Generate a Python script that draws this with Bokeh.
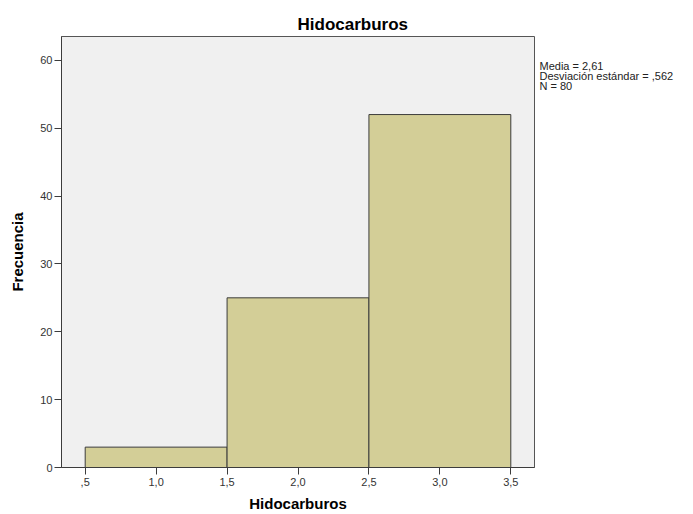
from bokeh.plotting import figure
from bokeh.models import Range1d, FixedTicker, LinearAxis
from bokeh.embed import file_html
from bokeh.resources import INLINE

# Data
bin_left = [0.5, 1.5, 2.5]
bin_right = [1.5, 2.5, 3.5]
counts = [3, 25, 52]
x_ticks = [0.5, 1.0, 1.5, 2.0, 2.5, 3.0, 3.5]
x_tick_labels = [",5", "1,0", "1,5", "2,0", "2,5", "3,0", "3,5"]
y_ticks = [0, 10, 20, 30, 40, 50, 60]
stats_lines = ["Media = 2,61", "Desviación estándar = ,562", "N = 80"]
title_text = "Hidocarburos"
x_label = "Hidocarburos"
y_label = "Frecuencia"

FONT = "Liberation Sans"
Y_MAX = 63.5

p = figure(width=693, height=514, output_backend="svg", toolbar_location=None,
           x_range=Range1d(0.333, 3.667), y_range=Range1d(0, Y_MAX),
           min_border_left=61, min_border_right=159, min_border_top=36, min_border_bottom=47)

p.background_fill_color = "#f0f0f0"
p.border_fill_color = "white"
p.outline_line_color = "#555555"
p.outline_line_width = 1
p.xgrid.visible = False
p.ygrid.visible = False

p.quad(left=bin_left, right=bin_right, bottom=0, top=counts,
       fill_color="#d3ce97", line_color="#3c3c3c", line_width=1)

p.title.text = title_text
p.title.align = "left"
p.title.offset = 236
p.title.text_font = FONT
p.title.text_font_style = "bold"
p.title.text_font_size = "17px"
p.title.text_color = "black"
p.title.standoff = 5

p.xaxis.ticker = FixedTicker(ticks=x_ticks)
p.xaxis.major_label_overrides = {t: l for t, l in zip(x_ticks, x_tick_labels)}
p.yaxis.ticker = FixedTicker(ticks=y_ticks)

for ax in (p.xaxis, p.yaxis):
    ax.axis_line_color = "#3c3c3c"
    ax.major_tick_line_color = "#3c3c3c"
    ax.minor_tick_line_color = None
    ax.major_tick_in = 0
    ax.major_tick_out = 7
    ax.major_label_text_font = FONT
    ax.major_label_text_font_size = "11px"
    ax.major_label_text_color = "#333333"
    ax.axis_label_text_font = FONT
    ax.axis_label_text_font_style = "bold"
    ax.axis_label_text_font_size = "15px"
    ax.axis_label_text_color = "black"

p.xaxis.major_label_standoff = 3
p.yaxis.major_label_standoff = 2
p.xaxis.axis_label = x_label
p.xaxis.axis_label_standoff = 6
p.yaxis.axis_label = y_label
p.yaxis.axis_label_standoff = 11

# statistics box shown as right-side text lines (page-pixel centres -> y values)
frame_top, frame_bottom = 36, 467
stat_centres_px = [65.0, 75.0, 85.0]
stat_pos = [Y_MAX * (frame_bottom - c) / (frame_bottom - frame_top) for c in stat_centres_px]
stats_axis = LinearAxis(ticker=FixedTicker(ticks=stat_pos),
                        major_label_overrides={v: t for v, t in zip(stat_pos, stats_lines)})
stats_axis.axis_line_color = None
stats_axis.major_tick_line_color = None
stats_axis.minor_tick_line_color = None
stats_axis.major_tick_in = 0
stats_axis.major_tick_out = 0
stats_axis.major_label_standoff = 5
stats_axis.major_label_text_font = FONT
stats_axis.major_label_text_font_size = "11px"
stats_axis.major_label_text_color = "#222222"
p.add_layout(stats_axis, "right")

open("out.html", "w").write(file_html(p, INLINE))
